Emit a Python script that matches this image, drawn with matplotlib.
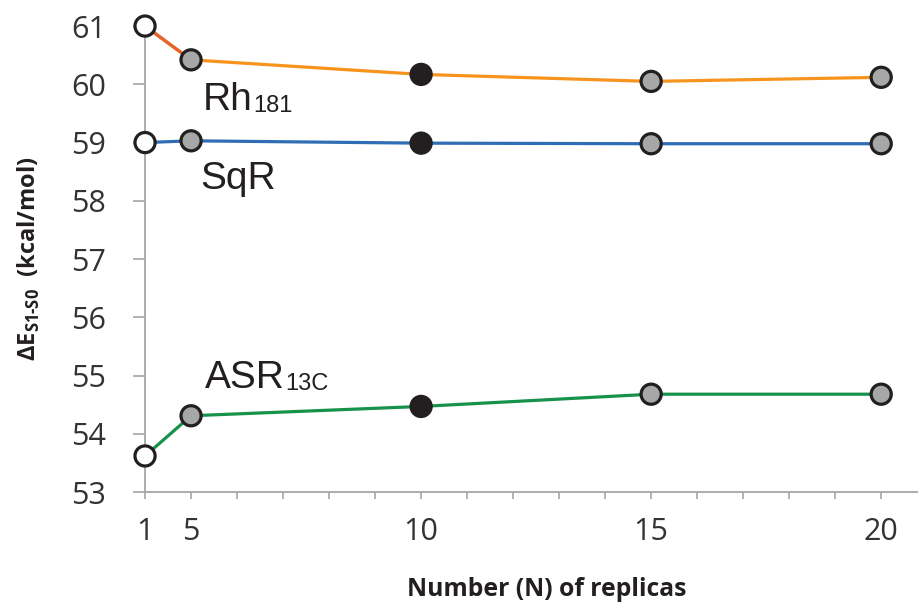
import numpy as np
import matplotlib
matplotlib.use("Agg")
import matplotlib.pyplot as plt

replicas = [1, 5, 10, 15, 20]
rh181 = [61.0, 60.42, 60.17, 60.05, 60.12]
sqr = [59.0, 59.03, 58.99, 58.98, 58.98]
asr13c = [53.62, 54.31, 54.47, 54.68, 54.68]

# 1 = starting model, 5/15/20 = replicas, 10 = chosen
marker_faces = ["white", "#a5a8a6", "#231f20", "#a5a8a6", "#a5a8a6"]

x_ticks = [1, 5, 10, 15, 20]
y_ticks = [53, 54, 55, 56, 57, 58, 59, 60, 61]

COLORS = {
    "rh": "#f7941d",
    "rh_first": "#e5622a",
    "sqr": "#2f6db5",
    "asr": "#17924a",
    "axis": "#a6a6a6",
    "ink": "#231f20",
}

TICK_FONT = "Open Sans"
LABEL_FONT = "Liberation Sans"


# the x axis is evenly spaced from 5 upward, with 1 squeezed in one step left of 5
def fwd(n):
    n = np.asarray(n, dtype=float)
    return np.where(n < 5, (n - 1) / 4.0, n - 4.0)


def inv(p):
    p = np.asarray(p, dtype=float)
    return np.where(p < 1, p * 4.0 + 1, p + 4.0)


plt.rcParams["mathtext.fontset"] = "custom"
plt.rcParams["mathtext.rm"] = "Open Sans:bold"
plt.rcParams["mathtext.bf"] = "Open Sans:bold"

fig = plt.figure(figsize=(9.18, 6.06), dpi=100)
ax = fig.add_axes([0.158, 0.188, 0.842, 0.769])
ax.set_xscale("function", functions=(fwd, inv))


def draw_series(vals, color, first_color=None):
    ax.plot(replicas, vals, color=color, lw=2.3, zorder=2, solid_capstyle="round")
    if first_color:
        ax.plot(replicas[:2], vals[:2], color=first_color, lw=2.3, zorder=2.1)
    ax.scatter(replicas, vals, s=210, c=marker_faces, edgecolors=COLORS["ink"],
               linewidths=2.3, zorder=3, clip_on=False)


draw_series(rh181, COLORS["rh"], COLORS["rh_first"])
draw_series(sqr, COLORS["sqr"])
draw_series(asr13c, COLORS["asr"])


def label(x, y, main, sub):
    t = ax.text(x, y, main, fontsize=28, family=LABEL_FONT, color=COLORS["ink"],
                va="baseline", ha="left")
    if sub:
        ax.annotate(sub, xy=(1, 0), xycoords=t, xytext=(0.5, 4.0),
                    textcoords="offset points", fontsize=17, family=LABEL_FONT,
                    color=COLORS["ink"], va="baseline", ha="left")


label(5.26, 59.56, "Rh", "181")
label(5.2, 58.2, "SqR", None)
label(5.3, 54.79, "ASR", "13C")

ax.set_xlim(1, 20.8)
ax.set_ylim(53, 61)
ax.set_xticks(x_ticks)
ax.set_xticklabels([str(v) for v in x_ticks])
ax.set_xticks([n for n in range(6, 21) if n not in x_ticks], minor=True)
ax.set_yticks(y_ticks)
ax.set_yticklabels([str(v) for v in y_ticks])

for side in ["top", "right"]:
    ax.spines[side].set_visible(False)
for side in ["left", "bottom"]:
    ax.spines[side].set_color(COLORS["axis"])
    ax.spines[side].set_linewidth(1.3)

ax.tick_params(axis="y", which="major", direction="out", length=9, width=1.2,
               color=COLORS["axis"], pad=19, labelsize=22, labelcolor="#333333")
ax.tick_params(axis="x", which="both", direction="out", length=5, width=1.2,
               color=COLORS["axis"], pad=13, labelsize=22, labelcolor="#333333")
for lab in ax.get_xticklabels() + ax.get_yticklabels():
    lab.set_family(TICK_FONT)

ax.set_xlabel("Number (N) of replicas", family=TICK_FONT, fontsize=17.8,
              fontweight="bold", color=COLORS["ink"])
ax.xaxis.set_label_coords(0.52, -0.183)

ax.set_ylabel(r"ΔE$_{\mathregular{S1\text{-}S0}}$  (kcal/mol)", family=TICK_FONT,
              fontsize=17, fontweight="bold", color=COLORS["ink"])
ax.yaxis.set_label_coords(-0.133, 0.5)

fig.savefig("out.png", dpi=100)
